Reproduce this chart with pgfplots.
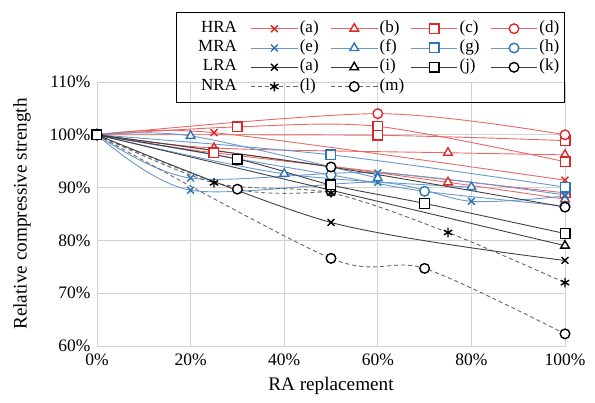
\documentclass[border=0pt]{standalone}
\usepackage{pgfplots}
\pgfplotsset{compat=1.18}
\usepackage{fontspec}
\setmainfont{Liberation Serif}

\definecolor{redline}{RGB}{234,104,104}
\definecolor{redmark}{RGB}{222,40,40}
\definecolor{blueline}{RGB}{104,152,206}
\definecolor{bluemark}{RGB}{46,117,182}
\definecolor{blackline}{RGB}{64,64,64}
\definecolor{gridgray}{RGB}{210,210,210}

\pgfplotsset{
  longlegend/.style={legend image code/.code={%
    \draw[mark repeat=2,mark phase=2,##1] plot coordinates {(0pt,0pt) (23pt,0pt) (46pt,0pt)};}},
  base/.style={smooth, tension=0.5, line width=0.9pt, longlegend},
  hra/.style={base, redline, mark options={solid, draw=redmark, fill=white, line width=1.4pt}},
  mra/.style={base, blueline, mark options={solid, draw=bluemark, fill=white, line width=1.4pt}},
  lra/.style={base, blackline, mark options={solid, draw=black, fill=white, line width=1.4pt}},
  nra/.style={base, gray!80!black, dashed, dash pattern=on 4pt off 3pt, mark options={solid, draw=black, fill=white, line width=1.4pt}},
  mx/.style={mark=x, mark size=4.8pt},
  mt/.style={mark=triangle*, mark size=5pt},
  ms/.style={mark=square*, mark size=4.8pt},
  mc/.style={mark=*, mark size=4.8pt},
  mst/.style={mark=asterisk, mark size=4.8pt},
}
\newcommand{\lt}[1]{\makebox[25pt][l]{#1}}
\newcommand{\ltl}[1]{\makebox[20pt][l]{#1}}
\newcommand{\rl}[1]{\makebox[63pt][r]{#1\kern8pt}}

\begin{document}
\begin{tikzpicture}
\useasboundingbox (-97pt,-57pt) rectangle (498pt,346pt);
\begin{axis}[
  scale only axis,
  width=468pt, height=264pt,
  xmin=0, xmax=100, ymin=60, ymax=110,
  xtick={0,20,40,60,80,100},
  xticklabels={\textrm{0\%},\textrm{20\%},\textrm{40\%},\textrm{60\%},\textrm{80\%},\textrm{100\%}},
  ytick={60,70,80,90,100,110},
  yticklabels={\textrm{60\%},\textrm{70\%},\textrm{80\%},\textrm{90\%},\textrm{100\%},\textrm{110\%}},
  major tick length=0pt,
  grid=major,
  major grid style={gridgray, line width=0.8pt},
  axis line style={gridgray, line width=0.8pt},
  tick label style={font=\fontsize{17.5}{19}\selectfont},
  xticklabel style={yshift=-4pt},
  yticklabel style={xshift=-3pt},
  label style={font=\fontsize{19.2}{21}\selectfont},
  xlabel={RA replacement},
  ylabel={Relative compressive strength},
  xlabel style={at={(axis description cs:0.5,-0.15)}, anchor=center},
  ylabel style={at={(axis description cs:-0.16,0.5)}, anchor=center},
  clip=false,
  legend columns=5,
  legend cell align=left,
  legend style={
    at={(axis description cs:1,1.265)}, anchor=north east,
    draw=black, line width=1pt, fill=none,
    font=\fontsize{17}{19}\selectfont,
    inner xsep=3pt, inner ysep=6.5pt,
    row sep=0pt,
    /tikz/every even column/.append style={column sep=4pt},
    nodes={inner xsep=2pt, inner ysep=0pt, text height=13.3pt, text depth=6pt},
  },
]

% legend rows: HRA / MRA / LRA / NRA
\addlegendimage{empty legend}\addlegendentry{\rl{HRA}}
\addlegendimage{hra,mx}\addlegendentry{\lt{(a)}}
\addlegendimage{hra,mt}\addlegendentry{\lt{(b)}}
\addlegendimage{hra,ms}\addlegendentry{\lt{(c)}}
\addlegendimage{hra,mc}\addlegendentry{\ltl{(d)}}
\addlegendimage{empty legend}\addlegendentry{\rl{MRA}}
\addlegendimage{mra,mx}\addlegendentry{\lt{(e)}}
\addlegendimage{mra,mt}\addlegendentry{\lt{(f)}}
\addlegendimage{mra,ms}\addlegendentry{\lt{(g)}}
\addlegendimage{mra,mc}\addlegendentry{\ltl{(h)}}
\addlegendimage{empty legend}\addlegendentry{\rl{LRA}}
\addlegendimage{lra,mx}\addlegendentry{\lt{(a)}}
\addlegendimage{lra,mt}\addlegendentry{\lt{(i)}}
\addlegendimage{lra,ms}\addlegendentry{\lt{(j)}}
\addlegendimage{lra,mc}\addlegendentry{\ltl{(k)}}
\addlegendimage{empty legend}\addlegendentry{\rl{NRA}}
\addlegendimage{nra,mst}\addlegendentry{\lt{(l)}}
\addlegendimage{nra,mc}\addlegendentry{\lt{(m)}}

% HRA
\addplot[hra,mx,forget plot] coordinates {(0,100) (25,100.4) (100,91.4)};
\addplot[hra,mt,forget plot] coordinates {(0,100) (25,97.5) (75,96.6) (100,96.2)};
\addplot[hra,mt,forget plot] coordinates {(0,100) (75,91.0) (100,87.8)};
\addplot[hra,ms,forget plot] coordinates {(0,100) (30,101.5) (60,101.6) (100,94.9)};
\addplot[hra,ms,forget plot] coordinates {(0,100) (60,99.9) (100,98.9)};
\addplot[hra,ms,forget plot] coordinates {(0,100) (25,96.6) (100,89.0)};
\addplot[hra,mc,forget plot] coordinates {(0,100) (60,104.0) (100,100.0)};

% MRA
\addplot[mra,mx,forget plot] coordinates {(0,100) (20,91.8) (60,92.8) (100,88.6)};
\addplot[mra,mx,forget plot] coordinates {(0,100) (20,89.5) (60,91.0) (80,87.4) (100,88.4)};
\addplot[mra,mt,forget plot] coordinates {(0,100) (20,99.8) (60,91.8)};
\addplot[mra,mt,forget plot] coordinates {(0,100) (40,92.6) (80,90.1)};
\addplot[mra,ms,forget plot] coordinates {(0,100) (50,96.2) (100,90.1)};
\addplot[mra,mc,forget plot] coordinates {(0,100) (50,92.4) (70,89.3) (100,86.5)};

% NRA
\addplot[nra,mc,forget plot] coordinates {(0,100) (50,76.6) (70,74.7) (100,62.3)};
\addplot[nra,mc,forget plot] coordinates {(0,100) (30,89.7) (50,89.3)};
\addplot[nra,mst,forget plot] coordinates {(0,100) (25,90.9) (50,89.0) (75,81.5) (100,72.0)};

% LRA
\addplot[lra,mx,forget plot] coordinates {(0,100) (50,83.4) (100,76.2)};
\addplot[lra,mt,forget plot] coordinates {(0,100) (100,79.0)};
\addplot[lra,mc,forget plot] coordinates {(0,100) (50,93.9) (100,86.3)};
\addplot[lra,ms,forget plot] coordinates {(0,100) (30,95.4) (50,90.5) (70,87.0) (100,81.3)};

\end{axis}
\end{tikzpicture}
\end{document}
